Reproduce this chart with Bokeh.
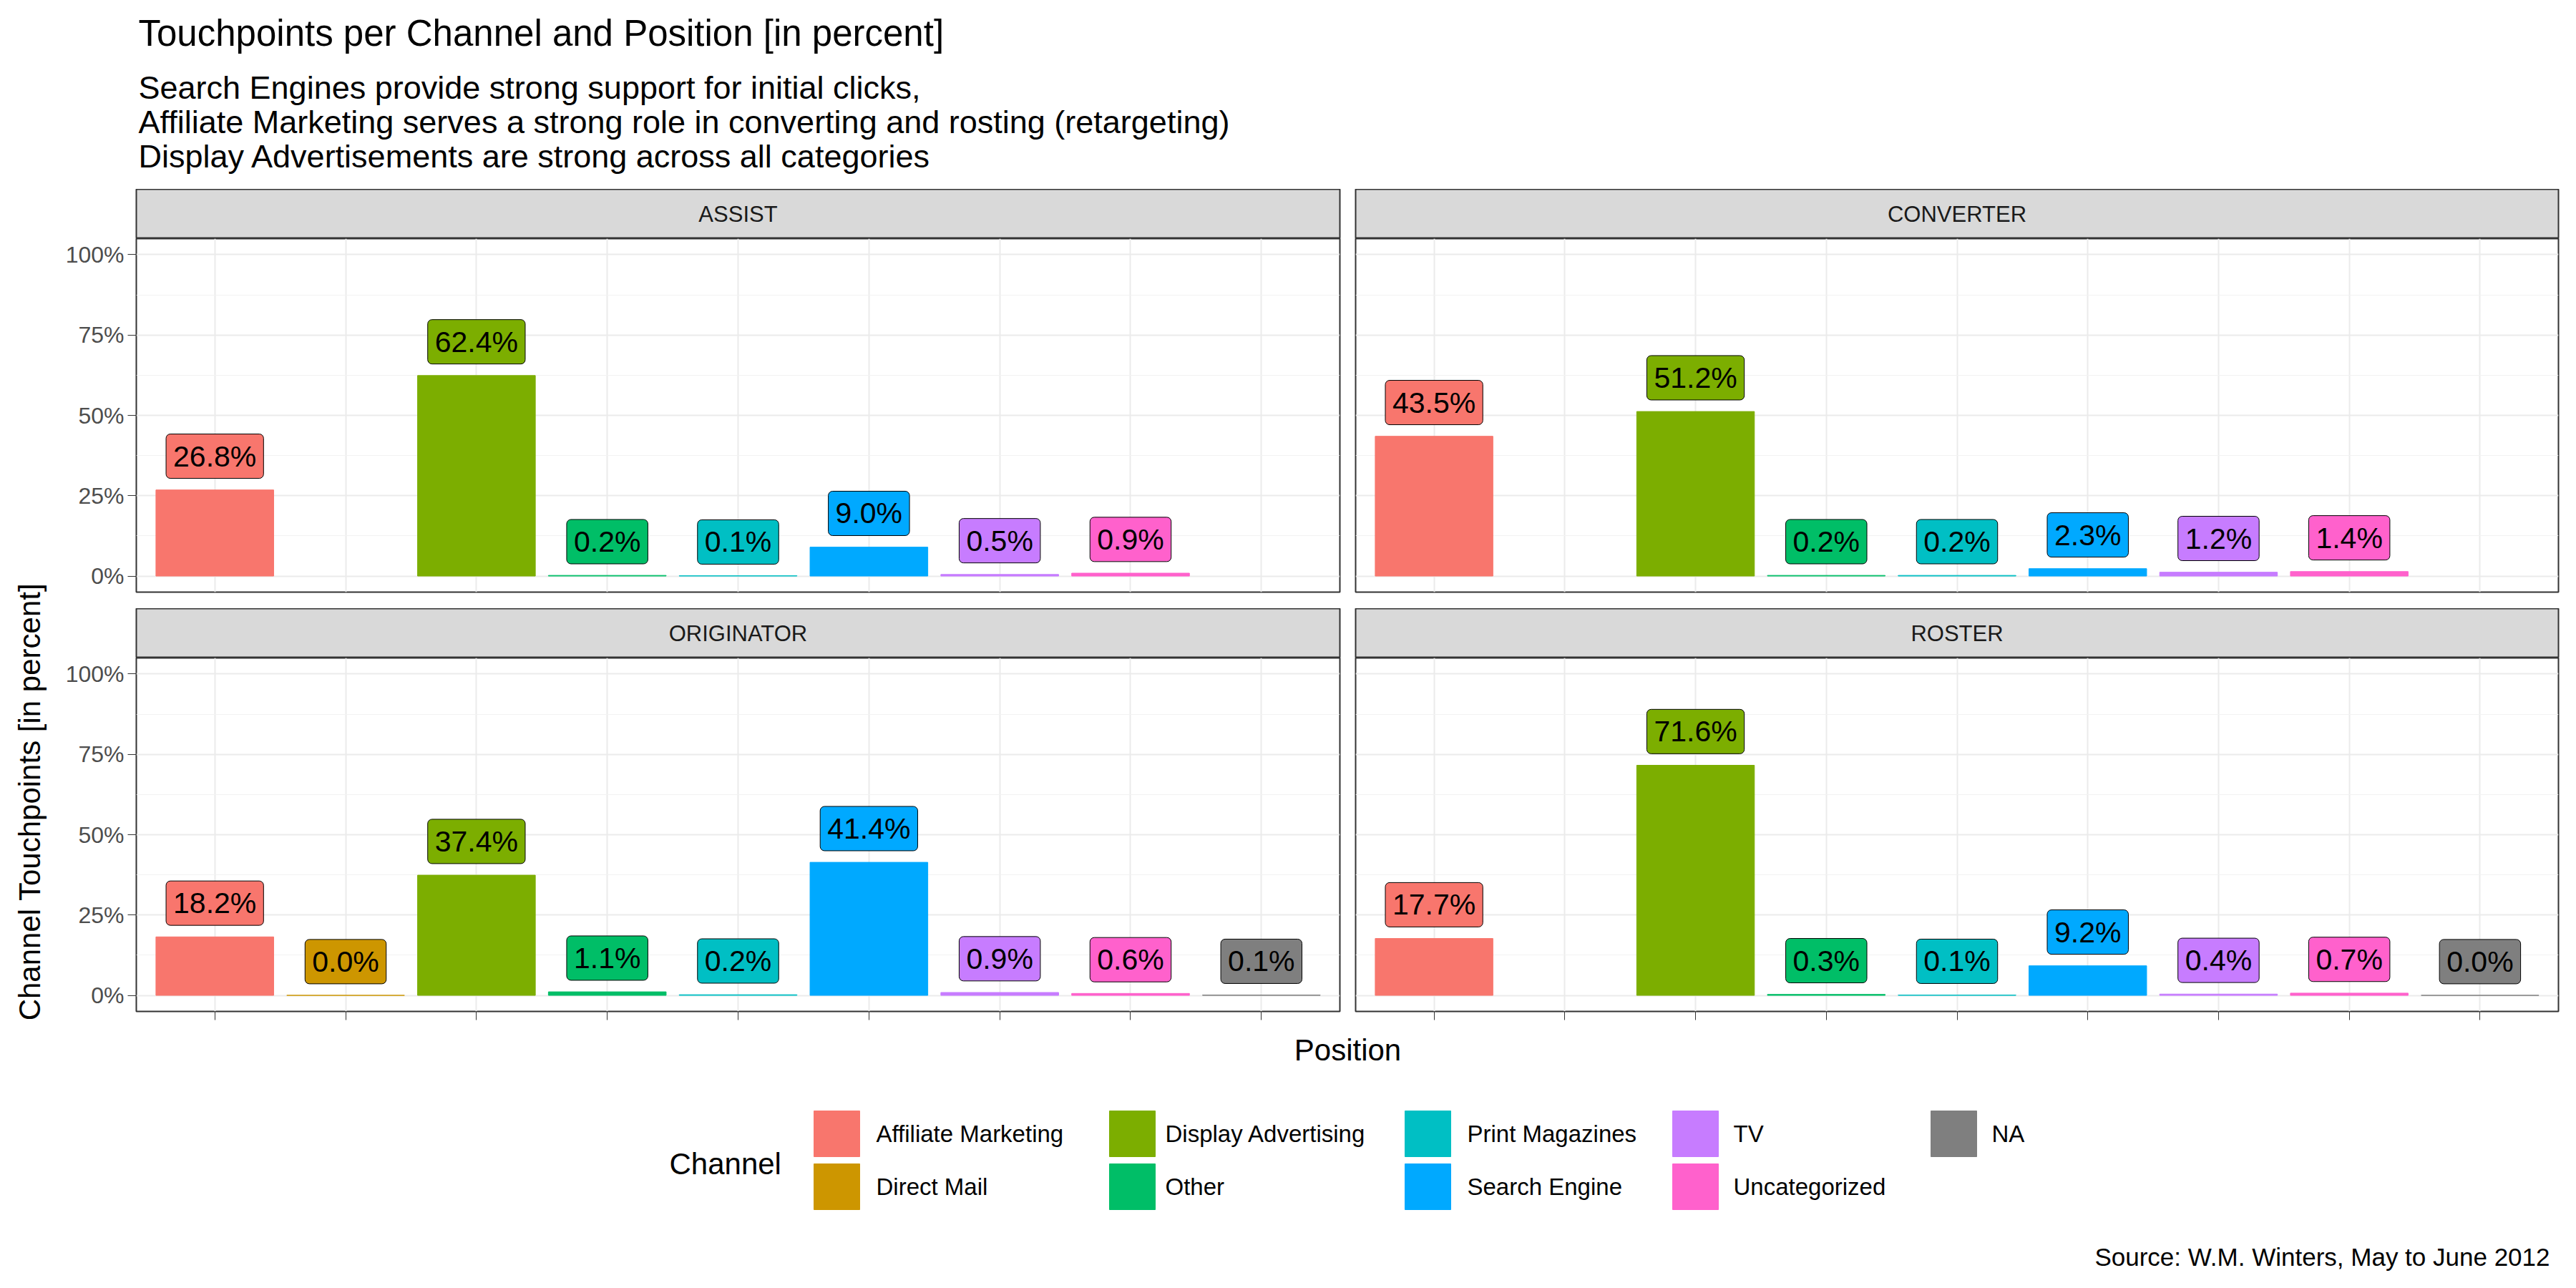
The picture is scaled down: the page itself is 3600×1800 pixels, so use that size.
from math import pi
from bokeh.core.properties import value
from bokeh.embed import file_html
from bokeh.layouts import column, row
from bokeh.models import ColumnDataSource, FixedTicker, NumeralTickFormatter, Range1d
from bokeh.plotting import figure
from bokeh.resources import INLINE

FONT = "Liberation Sans"

channels = ["Affiliate Marketing", "Direct Mail", "Display Advertising", "Other",
            "Print Magazines", "Search Engine", "TV", "Uncategorized", "NA"]
colours = ["#F8766D", "#CD9600", "#7CAE00", "#00BE67", "#00BFC4",
           "#00A9FF", "#C77CFF", "#FF61CC", "#7F7F7F"]

assist = [26.8, None, 62.4, 0.2, 0.1, 9.0, 0.5, 0.9, None]
converter = [43.5, None, 51.2, 0.2, 0.2, 2.3, 1.2, 1.4, None]
originator = [18.2, 0.0, 37.4, 1.1, 0.2, 41.4, 0.9, 0.6, 0.1]
roster = [17.7, None, 71.6, 0.3, 0.1, 9.2, 0.4, 0.7, 0.0]

title = "Touchpoints per Channel and Position [in percent]"
subtitle = ["Search Engines provide strong support for initial clicks,",
            "Affiliate Marketing serves a strong role in converting and rosting (retargeting)",
            "Display Advertisements are strong across all categories"]
caption = "Source: W.M. Winters, May to June 2012"

W = 3584
LEFT_W, RIGHT_W = 1804, 1700
YLAB_W = 80
STRIP_H = 69
FRAME_H = 494


def blank(width, height):
    p = figure(width=width, height=height, x_range=Range1d(0, width),
               y_range=Range1d(height, 0), toolbar_location=None,
               output_backend="svg", min_border=0)
    p.axis.visible = False
    p.grid.visible = False
    p.outline_line_color = None
    return p


def make_strip(name, left):
    width = LEFT_W if left else RIGHT_W
    s = figure(width=width, height=STRIP_H, x_range=Range1d(0, 1), y_range=Range1d(0, 1),
               toolbar_location=None, output_backend="svg",
               min_border_left=110 if left else 10, min_border_right=12 if left else 9,
               min_border_top=0, min_border_bottom=0)
    s.axis.visible = False
    s.grid.visible = False
    s.background_fill_color = "#D9D9D9"
    s.outline_line_color = "#333333"
    s.outline_line_width = 2
    s.text(x=[0.5], y=[0.5], text=[name], text_align="center", text_baseline="middle",
           text_font=value(FONT), text_font_size="31px", text_color="#1A1A1A")
    return s


def make_panel(name, vals, left, bottom):
    xs, ys, cs, labels = [], [], [], []
    for i, v in enumerate(vals):
        if v is None:
            continue
        xs.append(i + 1)
        ys.append(v / 100)
        cs.append(colours[i])
        labels.append("%.1f%%" % v)
    src = ColumnDataSource(dict(x=xs, top=ys, color=cs, label=labels,
                                ly=[y + 0.105 for y in ys]))
    width = LEFT_W if left else RIGHT_W
    height = FRAME_H + (30 if bottom else 23)
    p = figure(width=width, height=height, x_range=Range1d(0.4, 9.6),
               y_range=Range1d(-0.05, 1.05), toolbar_location=None,
               output_backend="svg", min_border_left=110 if left else 10,
               min_border_right=12 if left else 9, min_border_top=0,
               min_border_bottom=30 if bottom else 23)

    p.vbar(x="x", top="top", bottom=0, width=0.9, color="color", source=src)
    p.text(x="x", y="ly", text="label", source=src, text_align="center",
           text_baseline="middle", text_font=value(FONT), text_font_size="41px",
           text_color="black", background_fill_color="color",
           border_line_color="black", padding=(10, 8), border_radius=6)

    p.yaxis.ticker = FixedTicker(ticks=[0, 0.25, 0.5, 0.75, 1.0],
                                 minor_ticks=[0.125, 0.375, 0.625, 0.875])
    p.yaxis.formatter = NumeralTickFormatter(format="0%")
    p.xaxis.ticker = FixedTicker(ticks=list(range(1, 10)))
    p.xaxis.major_label_overrides = {i: "" for i in range(1, 10)}
    p.axis.major_label_text_font = FONT
    p.yaxis.major_label_text_font_size = "32px"
    p.axis.major_label_text_color = "#4D4D4D"
    p.axis.major_tick_in = 0
    p.axis.major_tick_out = 12
    p.axis.minor_tick_line_color = None
    p.axis.axis_line_color = None
    p.axis.major_tick_line_color = "#333333"
    p.yaxis.visible = left
    p.xaxis.visible = bottom
    p.grid.grid_line_color = "#EBEBEB"
    p.grid.grid_line_width = 2
    p.ygrid.minor_grid_line_color = "#F2F2F2"
    p.ygrid.minor_grid_line_width = 1
    p.outline_line_color = "#333333"
    p.outline_line_width = 2
    return column(make_strip(name, left), p)


# header
head = blank(W, 264)
head.text(x=[193], y=[46], text=[title], text_font=value(FONT), text_font_size="51px",
          text_baseline="middle", text_color="black")
head.text(x=[193] * 3, y=[122, 170, 218], text=subtitle, text_font=value(FONT),
          text_font_size="45px", text_baseline="middle", text_color="black")

pa = make_panel("ASSIST", assist, True, False)
pc = make_panel("CONVERTER", converter, False, False)
po = make_panel("ORIGINATOR", originator, True, True)
pr = make_panel("ROSTER", roster, False, True)

GRID_H = 2 * (STRIP_H + FRAME_H) + 23 + 30
ylab = blank(YLAB_W, GRID_H)
ylab.text(x=[41], y=[856], text=["Channel Touchpoints [in percent]"], angle=pi / 2,
          text_align="center", text_baseline="middle", text_font=value(FONT),
          text_font_size="42px", text_color="black")

# footer with position label, legend and caption
FH = 1784 - 264 - GRID_H
foot = blank(W, FH)
foot.text(x=[1883], y=[0], text=["Position"], text_align="center", text_baseline="top",
          text_font=value(FONT), text_font_size="42px", text_color="black")
foot.text(x=[935], y=[183], text=["Channel"], text_baseline="middle",
          text_font=value(FONT), text_font_size="42px", text_color="black")
col_key = [1137, 1550, 1963, 2337, 2698]
col_txt = [1224, 1628, 2050, 2422, 2783]
row_y = [141, 215]
kx, ky, tx = [], [], []
for i, ch in enumerate(channels):
    c, r = divmod(i, 2)
    kx.append(col_key[c] + 32)
    ky.append(row_y[r])
    tx.append(col_txt[c])
foot.rect(x=kx, y=ky, width=64, height=64, color=colours)
foot.text(x=tx, y=ky, text=channels, text_baseline="middle", text_font=value(FONT),
          text_font_size="33px", text_color="black")
foot.text(x=[3563], y=[313], text=[caption], text_align="right", text_baseline="middle",
          text_font=value(FONT), text_font_size="35px", text_color="black")

layout = column(head, row(ylab, column(row(pa, pc), row(po, pr))), foot)
open("out.html", "w").write(file_html(layout, INLINE))
